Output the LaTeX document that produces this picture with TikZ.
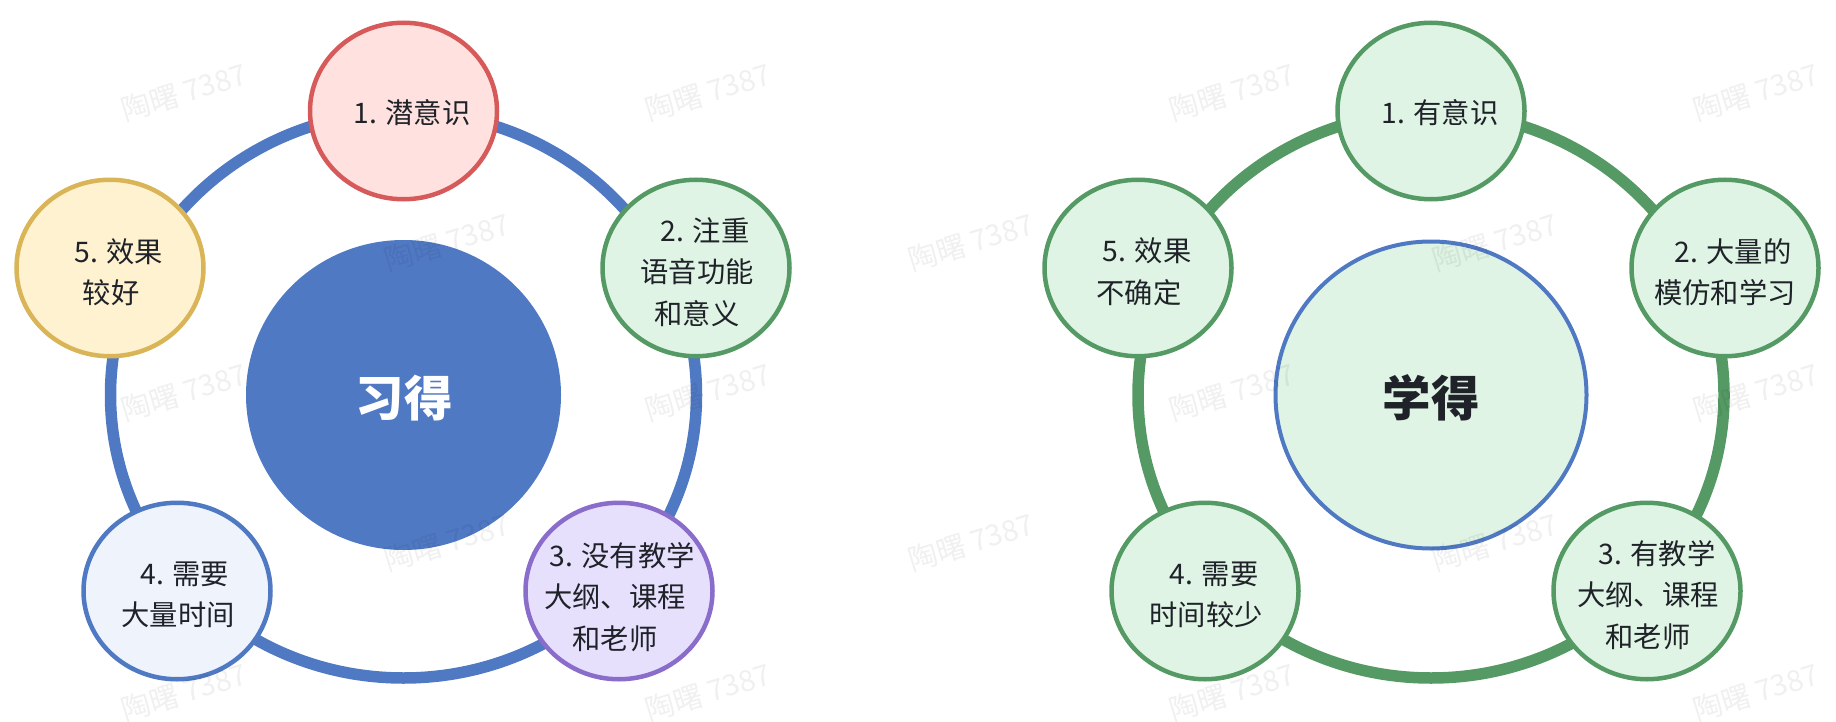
\documentclass[tikz,border=0pt]{standalone}
\usepackage{fontspec}
\setmainfont{Noto Sans CJK SC}
\usetikzlibrary{shapes.geometric}

\definecolor{ringblue}{HTML}{5079C4}
\definecolor{ringgreen}{HTML}{559A64}
\definecolor{palegreen}{HTML}{DFF4E4}
\definecolor{inkdark}{HTML}{1F2329}
\definecolor{HTMLred}{HTML}{D65A5A}
\definecolor{HTMLredfill}{HTML}{FFE2E0}
\definecolor{HTMLyellow}{HTML}{D9B558}
\definecolor{HTMLyellowfill}{HTML}{FEF2D0}
\definecolor{HTMLbluefill}{HTML}{EFF3FC}
\definecolor{HTMLlilac}{HTML}{8A6CCB}
\definecolor{HTMLlilacfill}{HTML}{E6E0FD}

\tikzset{
  every ring/.style={draw, shape=ellipse, inner sep=0, line width=11.5pt,
    minimum width=586pt, minimum height=566pt},
  every item/.style={draw, shape=ellipse, inner sep=0, line width=4.5pt,
    minimum width=187pt, minimum height=176.5pt},
  item red/.style={draw=HTMLred, fill=HTMLredfill},
  item green/.style={draw=ringgreen, fill=palegreen},
  item yellow/.style={draw=HTMLyellow, fill=HTMLyellowfill},
  item blue/.style={draw=ringblue, fill=HTMLbluefill},
  item lilac/.style={draw=HTMLlilac, fill=HTMLlilacfill},
  item text/.style={align=center, inner sep=0, text=inkdark,
    font=\fontsize{28.3}{41.5}\selectfont},
  core text/.style={inner sep=0, font=\fontsize{48.5}{54}\selectfont\bfseries},
  water mark/.style={inner sep=0, rotate=17, text=black, text opacity=0.06,
    font=\fontsize{29.2}{31}\selectfont}
}

\begin{document}
\begin{tikzpicture}[x=1pt, y=-1pt]
\useasboundingbox (0,0) rectangle (1836,722);

% Draw rings
\node [every ring, draw=ringblue] (ring-left) at (403.5,395) {};
\node [every ring, draw=ringgreen] (ring-right) at (1431,395) {};

% Draw left items
\foreach \m/\x/\y/\s in {1/403.5/111/red, 2/696/268/green, 3/619/591/lilac, 4/177/591/blue, 5/110/268/yellow}
  \node [every item, item \s/.try] (left-\m) at (\x,\y) {};

% Draw right items
\foreach \m/\x/\y in {1/1431/111, 2/1725/268, 3/1647/591, 4/1205/591, 5/1138/268}
  \node [every item, item green/.try] (right-\m) at (\x,\y) {};

% Label left items
\foreach \m/\x/\y/\l in {
    1/412/113/{1. 潜意识},
    2/697/272/{\hspace*{16pt}2. 注重\\语音功能\\和意义},
    3/615/597/{\hspace*{14pt}3. 没有教学\\大纲、课程\\和老师},
    4/178/595/{\hspace*{14pt}4. 需要\\大量时间},
    5/111/272/{\hspace*{16pt}5. 效果\\较好}}
  \node [item text] (left-text-\m) at (\x,\y) {\l};

% Label right items
\foreach \m/\x/\y/\l in {
    1/1440/113/{1. 有意识},
    2/1725/272/{\hspace*{16pt}2. 大量的\\模仿和学习},
    3/1648/595/{\hspace*{18pt}3. 有教学\\大纲、课程\\和老师},
    4/1206/595/{\hspace*{16pt}4. 需要\\时间较少},
    5/1139/272/{\hspace*{16pt}5. 效果\\不确定}}
  \node [item text] (right-text-\m) at (\x,\y) {\l};

% Draw centre circles
\node [every item, draw=none, fill=ringblue, minimum width=315pt, minimum height=310pt] (core-left) at (403.5,395) {};
\node [every item, draw=ringblue, line width=4pt, fill=palegreen, minimum width=311pt, minimum height=307pt] (core-right) at (1431,395) {};
\node [core text, text=white] (core-left-text) at (404,398) {习得};
\node [core text, text=inkdark] (core-right-text) at (1431,398) {学得};

% Watermarks
\foreach \x [count=\i] in {184,708,1232,1756}
  \foreach \y [count=\j] in {92,392,692}
    \node [water mark] (mark-a-\i-\j) at (\x,\y) {陶曙 7387};
\foreach \x [count=\i] in {447,971,1495}
  \foreach \y [count=\j] in {242,542}
    \node [water mark] (mark-b-\i-\j) at (\x,\y) {陶曙 7387};
\end{tikzpicture}
\end{document}
